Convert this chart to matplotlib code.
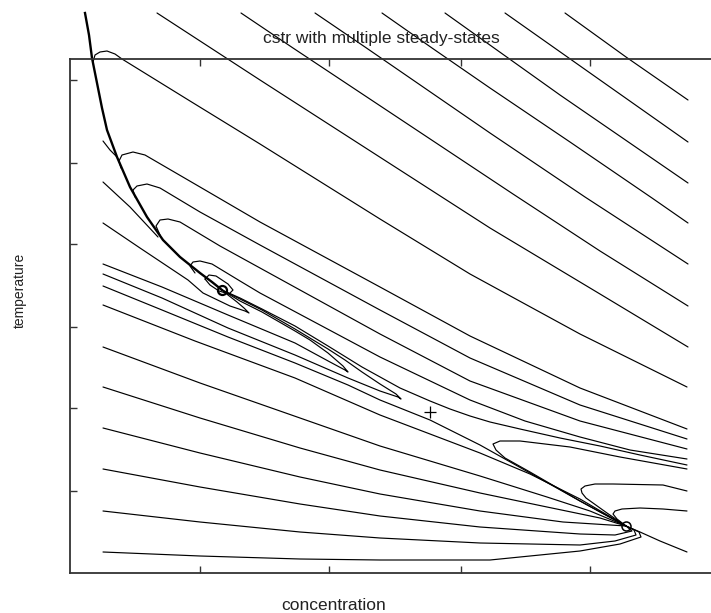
import matplotlib
matplotlib.use("Agg")
import matplotlib.pyplot as plt

plt.rcParams['font.family'] = ['Liberation Sans', 'DejaVu Sans']

# ---- axis extent and tick positions (arbitrary units, no tick labels shown)
conc_lim = (0.0, 6.5)
temp_lim = (0.0, 5.14)
conc_ticks = [1.30, 2.59, 3.91, 5.20]
temp_ticks = [0.82, 1.65, 2.46, 3.29, 4.10, 4.93]

# ---- steady states
upper_node = (1.52, 2.83)
lower_node = (5.56, 0.47)
saddle = (3.60, 1.61)

# ---- trajectories (concentration, temperature)
manifold_c = [0.15, 0.19, 0.22, 0.27, 0.32, 0.37, 0.47, 0.60, 0.77, 0.93, 1.10, 1.30, 1.42, 1.52]
manifold_T = [5.60, 5.38, 5.15, 4.90, 4.65, 4.43, 4.16, 3.86, 3.56, 3.33, 3.16, 3.00, 2.91, 2.83]

top1_c = [4.95, 5.56, 6.18]
top1_T = [5.60, 5.16, 4.73]
top2_c = [4.35, 5.30, 6.18]
top2_T = [5.60, 4.93, 4.31]
top3_c = [3.75, 4.90, 6.18]
top3_T = [5.60, 4.78, 3.90]
top4_c = [3.12, 3.62, 4.20, 5.00, 5.82, 6.18]
top4_T = [5.60, 5.25, 4.85, 4.31, 3.75, 3.50]
top5_c = [2.45, 2.95, 4.20, 5.15, 6.18]
top5_T = [5.60, 5.26, 4.40, 3.76, 3.09]
top6_c = [1.71, 2.23, 3.30, 4.43, 5.30, 6.18]
top6_T = [5.60, 5.25, 4.54, 3.79, 3.22, 2.67]
top7_c = [0.87, 1.90, 4.20, 5.30, 6.18]
top7_T = [5.60, 4.93, 3.45, 2.79, 2.26]

hook0_c = [0.23, 0.25, 0.30, 0.37, 0.45, 0.52, 1.20, 1.90, 3.10, 4.00, 5.10, 6.17]
hook0_T = [5.11, 5.18, 5.21, 5.22, 5.19, 5.14, 4.72, 4.29, 3.54, 2.99, 2.39, 1.86]
hook1_c = [0.51, 0.49, 0.52, 0.63, 0.75, 1.30, 1.90, 3.10, 4.00, 5.10, 6.17]
hook1_T = [4.05, 4.12, 4.18, 4.21, 4.18, 3.86, 3.51, 2.86, 2.37, 1.85, 1.44]
hook2_c = [0.65, 0.63, 0.67, 0.77, 0.90, 1.30, 1.90, 3.10, 4.00, 5.10, 6.17]
hook2_T = [3.76, 3.83, 3.87, 3.89, 3.85, 3.61, 3.28, 2.63, 2.15, 1.68, 1.34]
hook3_c = [0.90, 0.86, 0.90, 0.98, 1.10, 1.50, 1.90, 3.10, 4.00, 5.10, 6.17]
hook3_T = [3.38, 3.47, 3.53, 3.54, 3.51, 3.27, 3.05, 2.39, 1.92, 1.52, 1.24]
hook4_c = [1.25, 1.20, 1.23, 1.30, 1.42, 1.70, 1.90, 3.10, 4.00, 4.55, 5.10, 5.60, 6.17]
hook4_T = [3.00, 3.07, 3.11, 3.12, 3.09, 2.92, 2.80, 2.16, 1.73, 1.52, 1.36, 1.23, 1.14]

sep_c = [6.17, 5.70, 5.30, 4.90, 4.50, 4.20, 4.00, 3.80, 3.60, 3.30, 2.92, 2.58, 2.25, 1.92, 1.70, 1.52]
sep_T = [1.08, 1.18, 1.27, 1.35, 1.44, 1.51, 1.57, 1.64, 1.72, 1.85, 2.06, 2.27, 2.47, 2.64, 2.75, 2.83]

left141_c = [0.33, 0.40, 0.47]
left141_T = [4.32, 4.23, 4.16]
left182_c = [0.33, 0.60, 0.88]
left182_T = [3.91, 3.66, 3.36]

tongue1_c = [0.33, 0.70, 1.00, 1.18, 1.33, 1.60, 1.75, 1.79, 1.74, 1.67, 1.58, 1.52]
tongue1_T = [3.50, 3.25, 3.05, 2.93, 2.80, 2.67, 2.62, 2.60, 2.65, 2.71, 2.78, 2.83]
tongue2_c = [0.33, 0.92, 1.58, 2.25, 2.60, 2.75, 2.78, 2.73, 2.58, 2.40, 2.25, 1.92, 1.70, 1.52]
tongue2_T = [3.09, 2.86, 2.58, 2.30, 2.11, 2.03, 2.01, 2.07, 2.20, 2.33, 2.42, 2.61, 2.72, 2.83]
tongue3_c = [0.33, 0.92, 1.58, 2.25, 2.78, 3.10, 3.28, 3.31, 3.26, 3.10, 2.92, 2.75, 2.58, 2.25, 1.92, 1.70, 1.52]
tongue3_T = [2.99, 2.75, 2.45, 2.18, 1.95, 1.82, 1.76, 1.74, 1.79, 1.89, 2.01, 2.13, 2.24, 2.44, 2.63, 2.74, 2.83]

spiral_c = [1.35, 1.39, 1.46, 1.58, 1.63, 1.59, 1.49, 1.40, 1.35]
spiral_T = [2.94, 2.98, 2.97, 2.89, 2.83, 2.79, 2.82, 2.88, 2.94]

low286_c = [0.33, 0.92, 1.58, 2.25, 2.78, 3.10, 3.60, 4.10, 4.60, 5.10, 5.56]
low286_T = [2.87, 2.63, 2.36, 2.10, 1.88, 1.73, 1.53, 1.28, 1.00, 0.72, 0.47]
low305_c = [0.33, 1.25, 2.25, 3.10, 3.60, 4.10, 4.60, 5.10, 5.56]
low305_T = [2.68, 2.32, 1.95, 1.58, 1.39, 1.20, 0.99, 0.74, 0.47]
low347_c = [0.33, 1.30, 2.30, 3.10, 4.10, 4.77, 5.20, 5.56]
low347_T = [2.26, 1.90, 1.55, 1.27, 0.97, 0.76, 0.62, 0.47]
low387_c = [0.33, 1.30, 2.30, 3.10, 4.10, 4.77, 5.30, 5.56]
low387_T = [1.86, 1.55, 1.25, 1.03, 0.80, 0.66, 0.55, 0.47]
low428_c = [0.33, 1.30, 2.30, 3.10, 4.10, 4.93, 5.56]
low428_T = [1.45, 1.20, 0.96, 0.79, 0.62, 0.51, 0.47]
low469_c = [0.33, 1.30, 2.30, 3.10, 4.10, 5.10, 5.45, 5.62, 5.56]
low469_T = [1.04, 0.86, 0.69, 0.57, 0.46, 0.39, 0.38, 0.42, 0.47]
low511_c = [0.33, 1.30, 2.30, 3.10, 4.10, 5.10, 5.45, 5.66, 5.64, 5.56]
low511_T = [0.62, 0.51, 0.41, 0.35, 0.30, 0.28, 0.32, 0.38, 0.43, 0.47]
low552_c = [0.33, 1.30, 2.30, 3.10, 4.20, 5.10, 5.50, 5.71, 5.69, 5.56]
low552_T = [0.21, 0.17, 0.14, 0.13, 0.13, 0.22, 0.29, 0.36, 0.41, 0.47]

loop1_c = [6.17, 5.50, 5.00, 4.50, 4.30, 4.23, 4.26, 4.35, 4.60, 5.10, 5.43, 5.56]
loop1_T = [1.04, 1.16, 1.26, 1.32, 1.32, 1.29, 1.23, 1.15, 1.01, 0.72, 0.54, 0.47]
loop2_c = [6.17, 5.93, 5.43, 5.25, 5.15, 5.11, 5.12, 5.16, 5.23, 5.37, 5.50, 5.56]
loop2_T = [0.82, 0.88, 0.89, 0.89, 0.87, 0.84, 0.80, 0.75, 0.70, 0.60, 0.51, 0.47]
loop3_c = [6.17, 5.93, 5.70, 5.52, 5.45, 5.43, 5.47, 5.56]
loop3_T = [0.62, 0.64, 0.65, 0.64, 0.62, 0.59, 0.54, 0.47]
right552_c = [6.17, 5.90, 5.70, 5.56]
right552_T = [0.21, 0.32, 0.41, 0.47]

thin_curves = [
    (top1_c, top1_T), (top2_c, top2_T), (top3_c, top3_T), (top4_c, top4_T),
    (top5_c, top5_T), (top6_c, top6_T), (top7_c, top7_T),
    (hook0_c, hook0_T), (hook1_c, hook1_T), (hook2_c, hook2_T),
    (hook3_c, hook3_T), (hook4_c, hook4_T),
    (sep_c, sep_T), (left141_c, left141_T), (left182_c, left182_T),
    (tongue1_c, tongue1_T), (tongue2_c, tongue2_T), (tongue3_c, tongue3_T),
    (spiral_c, spiral_T),
    (low286_c, low286_T), (low305_c, low305_T), (low347_c, low347_T),
    (low387_c, low387_T), (low428_c, low428_T), (low469_c, low469_T),
    (low511_c, low511_T), (low552_c, low552_T),
    (loop1_c, loop1_T), (loop2_c, loop2_T), (loop3_c, loop3_T),
    (right552_c, right552_T),
]

W, H = 711, 613
fig = plt.figure(figsize=(W / 100, H / 100), dpi=100)
ax = fig.add_axes([70 / W, 40 / H, 650 / W, 514 / H])
ax.set_xlim(*conc_lim)
ax.set_ylim(*temp_lim)

for c, t in thin_curves:
    ax.plot(c, t, color='black', lw=0.85, clip_on=False,
            solid_joinstyle='round', solid_capstyle='round')
ax.plot(manifold_c, manifold_T, color='black', lw=1.7, clip_on=False,
        solid_joinstyle='round')

ax.plot([upper_node[0]], [upper_node[1]], marker='o', ms=6.5, mfc='none',
        mec='black', mew=1.6, clip_on=False)
ax.plot([lower_node[0]], [lower_node[1]], marker='o', ms=6.5, mfc='none',
        mec='black', mew=1.1, clip_on=False)
ax.plot([saddle[0]], [saddle[1]], marker='+', ms=9, mec='black', mew=0.9)

ax.set_xticks(conc_ticks)
ax.set_yticks(temp_ticks)
ax.tick_params(direction='in', length=5, width=1.0, top=True, right=True,
               labelbottom=False, labelleft=False, colors='#333333')
for sp in ax.spines.values():
    sp.set_linewidth(1.3)
    sp.set_color('#333333')

fig.text(381 / W, 1 - 43 / H, 'cstr with multiple steady-states',
         ha='center', va='baseline', fontsize=12.5, color='#222222')
fig.text(334 / W, 1 - 610 / H, 'concentration', ha='center', va='baseline',
         fontsize=12.5, color='#222222')
fig.text(20 / W, 1 - 290 / H, 'temperature', rotation=90, ha='center',
         va='center', fontsize=10, color='#222222')

fig.savefig('out.png', dpi=100)
